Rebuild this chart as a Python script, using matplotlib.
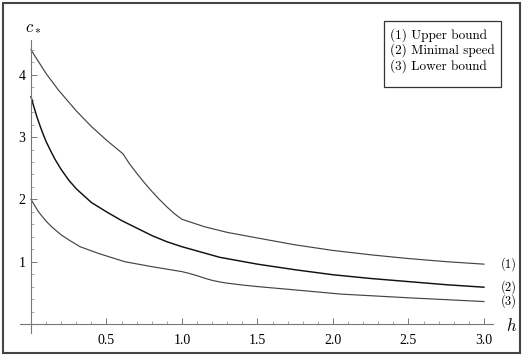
import matplotlib
matplotlib.use('Agg')
import matplotlib.pyplot as plt
from matplotlib.patches import Rectangle
from matplotlib.ticker import FixedLocator

# values
h_upper = [0.0, 0.1, 0.18, 0.3, 0.4, 0.5, 0.61, 0.65, 0.7, 0.75, 0.8, 0.85, 0.9,
           0.95, 1.0, 1.15, 1.3, 1.5, 1.75, 2.0, 2.25, 2.5, 2.75, 3.0]
c_upper = [4.40, 4.02, 3.76, 3.42, 3.17, 2.95, 2.73, 2.58, 2.42, 2.27, 2.13, 2.00,
           1.88, 1.77, 1.68, 1.56, 1.47, 1.38, 1.27, 1.18, 1.11, 1.05, 1.00, 0.96]

h_speed = [0.0, 0.02, 0.04, 0.06, 0.08, 0.1, 0.13, 0.16, 0.2, 0.25, 0.3, 0.4, 0.5,
           0.6, 0.7, 0.8, 0.9, 1.0, 1.25, 1.5, 1.75, 2.0, 2.25, 2.5, 2.75, 3.0]
c_speed = [3.65, 3.48, 3.32, 3.18, 3.05, 2.93, 2.78, 2.64, 2.48, 2.31, 2.17, 1.95,
           1.80, 1.66, 1.54, 1.42, 1.32, 1.24, 1.07, 0.96, 0.87, 0.79, 0.73, 0.68,
           0.63, 0.59]

h_lower = [0.0, 0.05, 0.1, 0.137, 0.2, 0.25, 0.325, 0.45, 0.62, 0.8, 1.0, 1.05,
           1.1, 1.15, 1.2, 1.25, 1.3, 1.4, 1.5, 1.78, 2.05, 2.5, 3.0]
c_lower = [2.00, 1.80, 1.65, 1.56, 1.43, 1.35, 1.24, 1.13, 1.00, 0.92, 0.84, 0.81,
           0.775, 0.735, 0.70, 0.675, 0.655, 0.625, 0.60, 0.54, 0.48, 0.42, 0.36]

curve_tags = ['(1)', '(2)', '(3)']
legend_lines = ['(1) Upper bound', '(2) Minimal speed', '(3) Lower bound']

x_major = [0.5, 1.0, 1.5, 2.0, 2.5, 3.0]
x_labels = ['0.5', '1.0', '1.5', '2.0', '2.5', '3.0']
y_major = [1, 2, 3, 4]
y_labels = ['1', '2', '3', '4']

W, H = 523, 358


def px(x, y):
    """pixel position -> figure fraction"""
    return x / W, 1 - y / H


def make_plot():
    plt.rcParams['mathtext.fontset'] = 'cm'
    fig = plt.figure(figsize=(W / 100, H / 100), dpi=100)
    ax = fig.add_axes([0.039, 0.0707, 0.9036, 0.8162])
    ax.set_xlim(-0.07, 3.06)
    ax.set_ylim(-0.14, 4.55)

    ax.plot(h_upper, c_upper, color='#444444', lw=0.85)
    ax.plot(h_speed, c_speed, color='#111111', lw=1.05)
    ax.plot(h_lower, c_lower, color='#444444', lw=0.85)

    for sp in ['top', 'right']:
        ax.spines[sp].set_visible(False)
    ax.spines['left'].set_position(('data', 0))
    ax.spines['bottom'].set_position(('data', 0))
    for sp in ['left', 'bottom']:
        ax.spines[sp].set_color('#777777')
        ax.spines[sp].set_linewidth(0.8)

    ax.xaxis.set_major_locator(FixedLocator(x_major))
    ax.set_xticklabels(x_labels)
    ax.xaxis.set_minor_locator(FixedLocator([i / 10 for i in range(1, 31) if i % 5]))
    ax.yaxis.set_major_locator(FixedLocator(y_major))
    ax.set_yticklabels(y_labels)
    ax.yaxis.set_minor_locator(FixedLocator([i / 5 for i in range(1, 23) if i % 5]))

    ax.tick_params(which='major', direction='in', length=4.5, width=0.7,
                   color='#777777', labelsize=10)
    ax.tick_params(which='minor', direction='in', length=2.5, width=0.6,
                   color='#999999')
    ax.tick_params(axis='x', pad=7)
    ax.tick_params(axis='y', pad=4)
    for lab in ax.get_xticklabels() + ax.get_yticklabels():
        lab.set_family('Liberation Serif')

    # axis names
    fig.text(*px(512, 326), r'$h$', fontsize=12, ha='center', va='center')
    fig.text(*px(33, 26), r'$c_*$', fontsize=12, ha='center', va='center')

    # curve tags at the right end
    for tag, y in zip(curve_tags, [c_upper[-1], c_speed[-1], c_lower[-1]]):
        ax.annotate(tag, (3.0, y), xytext=(12, 0), textcoords='offset points',
                    family='cmr10', fontsize=9, va='center', ha='left',
                    annotation_clip=False)

    # legend box
    fig.add_artist(Rectangle(px(384, 87), 117 / W, 66 / H, transform=fig.transFigure,
                             fill=False, edgecolor='#333333', lw=0.9))
    for i, line in enumerate(legend_lines):
        fig.text(*px(390, 35 + 15.5 * i), line, family='cmr10', fontsize=9.5,
                 ha='left', va='center')

    # outer frame
    fig.add_artist(Rectangle(px(2.5, 353), 517 / W, 350 / H, transform=fig.transFigure,
                             fill=False, edgecolor='#444444', lw=1.5))

    plt.savefig('out.png', dpi=100)
    plt.close(fig)


if __name__ == '__main__':
    make_plot()
